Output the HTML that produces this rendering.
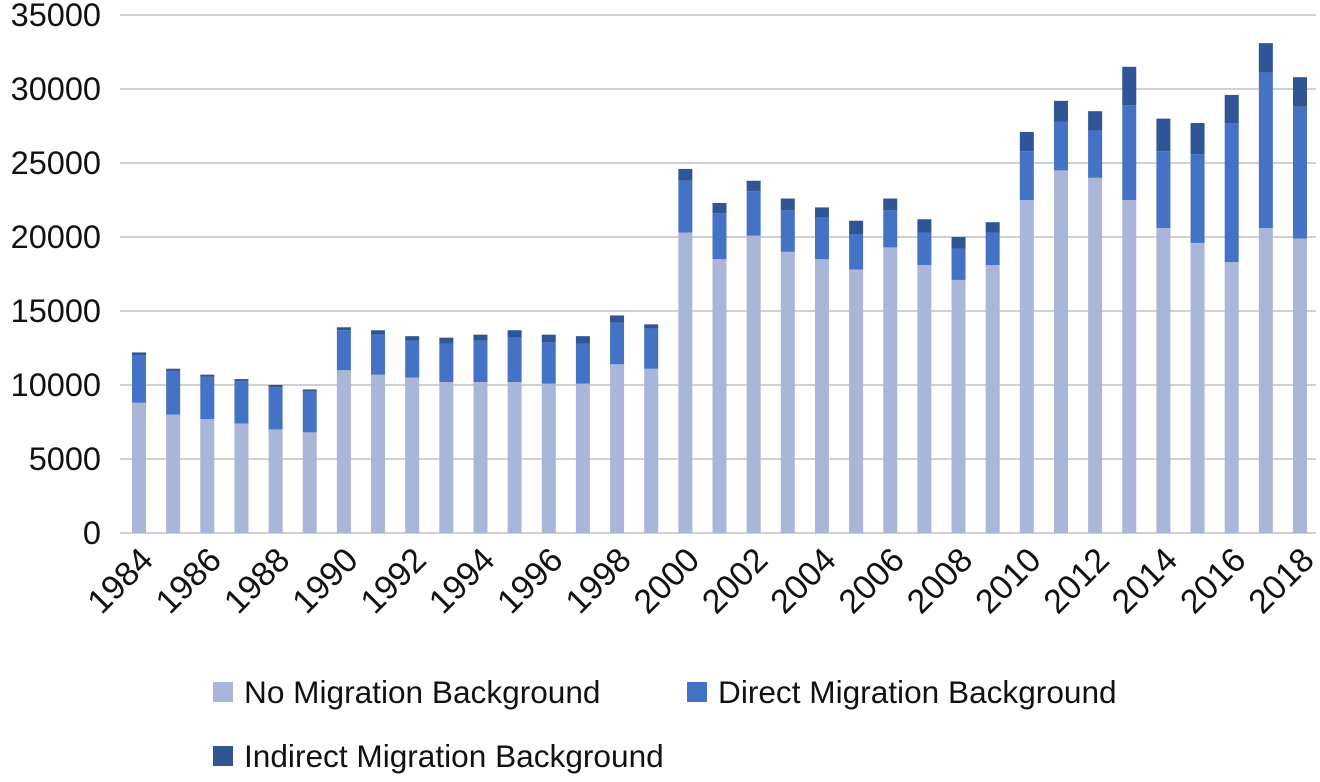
<!DOCTYPE html>
<html><head><meta charset="utf-8"><style>
html,body{margin:0;padding:0;background:#fff;}
svg text{font-family:"Liberation Sans",sans-serif;fill:#111;}
</style></head><body>
<svg width="1320" height="777" id="chart">
<g id="grid"></g><g id="bars"></g><g id="xlabels"></g>
<g>
<rect x="213" y="682" width="20" height="20" fill="#a9b5d9"/>
<text x="244" y="703" font-size="31.6">No Migration Background</text>
<rect x="687" y="682" width="20" height="20" fill="#4472c4"/>
<text x="718" y="703" font-size="31.6">Direct Migration Background</text>
<rect x="213" y="746" width="20" height="20" fill="#2f5597"/>
<text x="244" y="767" font-size="31.6">Indirect Migration Background</text>
</g>
</svg>
<script>
const years=[1984,1985,1986,1987,1988,1989,1990,1991,1992,1993,1994,1995,1996,1997,1998,1999,2000,2001,2002,2003,2004,2005,2006,2007,2008,2009,2010,2011,2012,2013,2014,2015,2016,2017,2018];
const noMig=[8800,8000,7700,7400,7000,6800,11000,10700,10500,10200,10200,10200,10100,10100,11400,11100,20300,18500,20100,19000,18500,17800,19300,18100,17100,18100,22500,24500,24000,22500,20600,19600,18300,20600,19900];
const direct=[3200,2950,2850,2850,2850,2750,2700,2700,2500,2600,2800,3000,2800,2700,2800,2700,3500,3100,3000,2800,2800,2400,2500,2200,2100,2200,3300,3300,3200,6400,5200,6000,9400,10500,8900];
const indirect=[200,150,150,150,150,150,200,300,300,400,400,500,500,500,500,300,800,700,700,800,700,900,800,900,800,700,1300,1400,1300,2600,2200,2100,1900,2000,2000];
const yTicks=[0,5000,10000,15000,20000,25000,30000,35000];
const NS="http://www.w3.org/2000/svg";
const y0=533,pxPer=518/35000,x0=139,step=(1300-139)/34,bw=14,left=120,right=1316;
const Y=v=>y0-v*pxPer, X=i=>x0+i*step;
function mk(t,a,p){const e=document.createElementNS(NS,t);for(const k in a)e.setAttribute(k,a[k]);p.appendChild(e);return e;}
const grid=document.getElementById('grid');
yTicks.forEach(t=>{
 const l=mk('line',{x1:left,x2:right,y1:Y(t),y2:Y(t),stroke:'#d0d0d0','stroke-width':2},grid);
 
 
 const tx=mk('text',{x:101,y:Y(t)+11,'text-anchor':'end','font-size':32.5},grid);
 tx.textContent=t;
 
 
});
const bars=document.getElementById('bars'),xl=document.getElementById('xlabels');
years.forEach((yr,i)=>{
 const x=X(i)-bw/2;
 const segs=[[0,noMig[i],'#a9b5d9','bar-no-migration'],[noMig[i],noMig[i]+direct[i],'#4472c4','bar-direct-migration'],[noMig[i]+direct[i],noMig[i]+direct[i]+indirect[i],'#2f5597','bar-indirect-migration']];
 segs.forEach(s=>{
  const r=mk('rect',{x:x,y:Y(s[1]),width:bw,height:Y(s[0])-Y(s[1]),fill:s[2]},bars);
  
  
 });
 if(i%2===0){
  const ax=X(i)+16, ay=562;
  const t=mk('text',{x:ax,y:ay,'text-anchor':'end','font-size':34,transform:`rotate(-45 ${ax} ${ay})`},xl);
  t.textContent=yr;
  
  
 }
});
</script>
</body></html>
